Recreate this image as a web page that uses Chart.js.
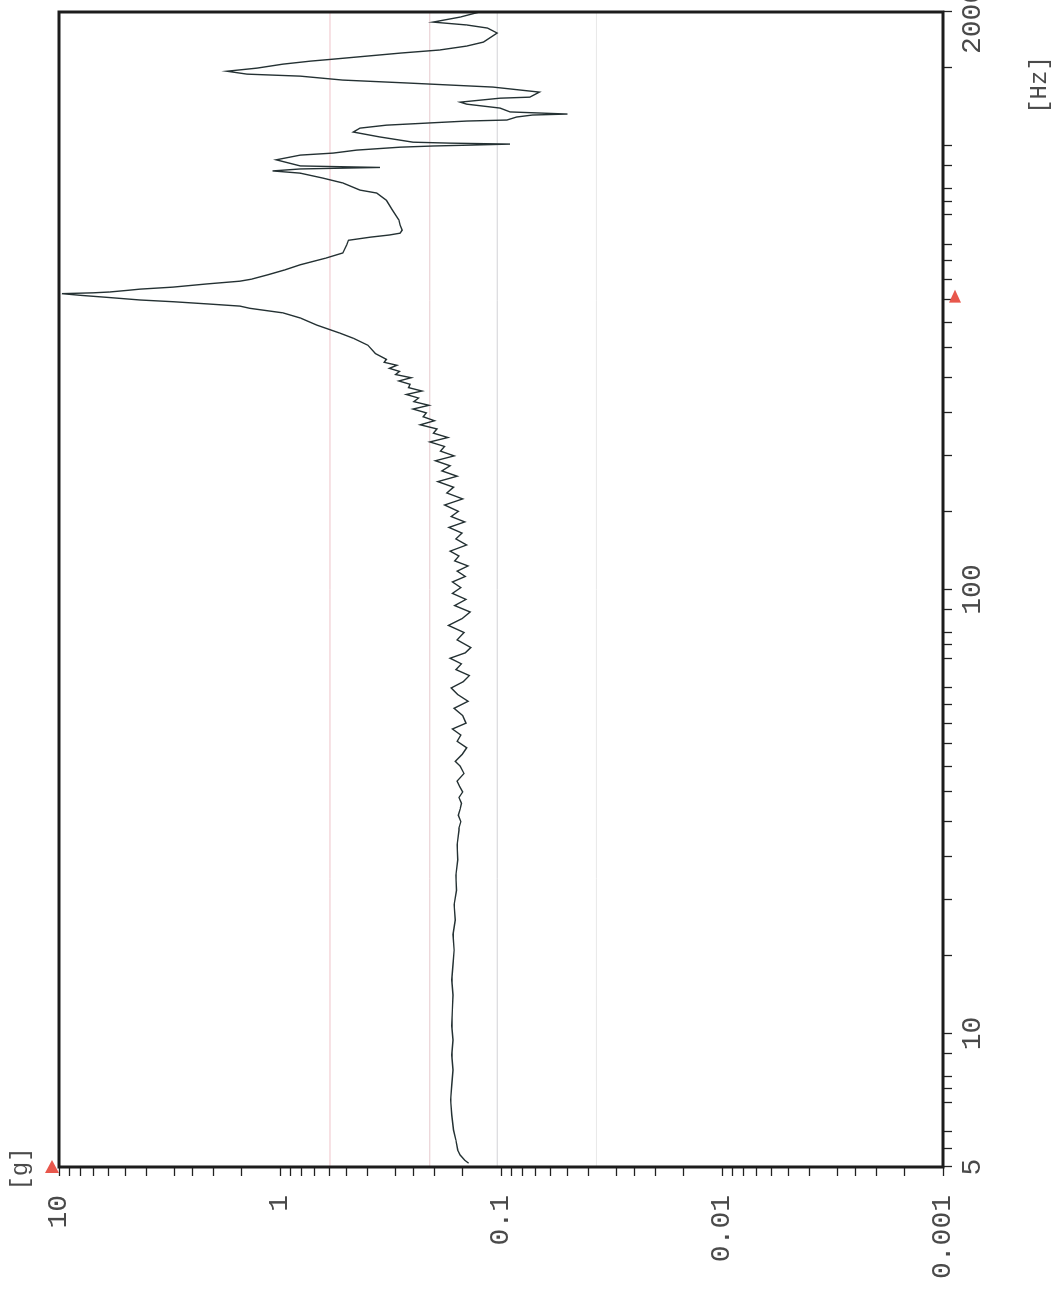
<!DOCTYPE html>
<html>
<head>
<meta charset="utf-8">
<script src="https://cdn.jsdelivr.net/npm/chart.js@4/dist/chart.umd.min.js"></script>
<style>
  html,body{margin:0;padding:0;background:#fff;overflow:hidden;width:1054px;height:1303px;}
  #wrap{position:absolute;left:0;top:0;width:1303px;height:1054px;transform-origin:0 0;transform:translate(0,1303px) rotate(-90deg);}
</style>
</head>
<body>
<div id="wrap"><canvas id="c" width="1303" height="1054"></canvas></div>
<script>
// Frequency [Hz]
const freq = [
  5.1,5.18,5.32,5.46,5.75,6.06,6.55,7.08,7.65,8.27,8.94,9.66,10.4,11.3,12.2,13.2,14.3,15.4,16.7,18.0,19.5,21.0,22.7,24.6,26.6,28.7,
  29,30,31,32,33,34,35,36,37,38.5,40,41,42.5,44,45.5,47,48.5,50,52,54,56,58,60,62,64,66,68,70,72,74,77,80,83,86,89,92,95,98,
  101,104,107,110,113,116,119,122,126,130,134,138,142,146,150,155,160,165,170,175,180,185,190,195,200,205,210,215,220,225,230,235,240,245,250,255,260,265,270,275,280,285,290,295,300,305,310,315,320,325,330,
  340,355,368,378,394,409,420,430,435,440,445,449,455,460,464,466,468,472,475,480,488,495,500,512,525,539,558,573,597,612,622,629,635,645,662,680,716,753,782,794,824,845,867,877,886,893,900,929,952,962,977,992,998,1003,1008,1013,1018,1046,1073,1095,1112,1124,1136,1142,1160,1172,1178,1191,1215,1240,1253,1279,1286,1320,1355,1384,1405,1434,1449,1471,1495,1526,1550,1566,1616,1642,1676,1711,1793,1840,1870,1898,1948,2000
];
// Acceleration [g]
const accel = [
  0.140,0.146,0.153,0.157,0.160,0.164,0.167,0.169,0.167,0.165,0.167,0.165,0.167,0.166,0.165,0.167,0.165,0.163,0.165,0.161,0.163,0.159,0.160,0.157,0.158,0.155,
  0.155,0.152,0.156,0.153,0.151,0.155,0.149,0.154,0.158,0.147,0.153,0.161,0.150,0.143,0.158,0.152,0.166,0.144,0.149,0.163,0.141,0.157,0.168,0.148,0.139,0.160,0.151,0.170,0.145,0.137,0.158,0.147,0.173,0.150,0.138,0.162,0.144,0.166,
  0.152,0.166,0.145,0.158,0.141,0.162,0.155,0.170,0.143,0.160,0.150,0.172,0.146,0.168,0.156,0.180,0.149,0.176,0.164,0.193,0.158,0.185,0.170,0.198,0.163,0.188,0.180,0.210,0.174,0.202,0.195,0.232,0.200,0.225,0.218,0.250,0.212,0.248,0.236,0.268,0.228,0.262,0.258,0.290,0.255,0.300,0.288,0.320,0.296,0.338,0.330,
  0.37,0.40,0.465,0.535,0.68,0.81,0.97,1.37,1.52,2.14,3.05,4.3,6.0,8.0,9.7,7.0,5.9,4.9,4.3,3.05,2.14,1.52,1.35,1.13,0.95,0.81,0.62,0.52,0.50,0.49,0.39,0.32,0.286,0.28,0.286,0.29,0.31,0.33,0.365,0.435,0.52,0.64,0.81,1.08,0.81,0.353,0.81,1.04,0.81,0.575,0.45,0.286,0.204,0.134,0.091,0.17,0.25,0.353,0.466,0.435,0.33,0.217,0.143,0.094,0.085,0.072,0.050,0.091,0.101,0.143,0.153,0.101,0.074,0.067,0.109,0.267,0.52,0.81,1.41,1.74,1.27,0.97,0.73,0.575,0.286,0.19,0.143,0.12,0.104,0.115,0.143,0.203,0.153,0.125
];
// Horizontal reference levels [g]
const levels = [0.594, 0.21, 0.104, 0.037];
const levelColors = ['#efc3c9', '#e6c9cd', '#d2d2d6', '#e8e8e8'];
// Axis ticks
const fMantissa = [1,1.5,2,2.5,3,3.5,4,4.5,5,5.5,6,7,7.5,8,9];
const fDecades = [1,10,100,1000];
const fLabels = {5:'5', 10:'10', 100:'100', 2000:'2000 '};
const gMantissa = [1,1.5,2,2.5,3,4,5,6,7,8,9];
const gDecades = [0.001,0.01,0.1,1];
const gLabels = [[10,'10'],[1,'1'],[0.1,'0.1'],[0.01,'0.01'],[0.001,'0.001']];
const fRange = [5, 2000];
const gRange = [0.001, 10];
const markerFreq = 464;
const markerG = 10;

const fTicks = [];
fDecades.forEach(d => fMantissa.forEach(m => { const v = m*d; if (v >= fRange[0]-1e-9 && v <= fRange[1]+1e-9) fTicks.push(v); }));
const gTicks = [];
gDecades.forEach(d => gMantissa.forEach(m => gTicks.push(m*d)));
gTicks.push(10);

const FONT = 'Liberation Mono';
const txtColor = '#4a4a4a';

const datasets = [];
levels.forEach((lv, i) => {
  datasets.push({data: [{x: fRange[0], y: lv}, {x: fRange[1], y: lv}], borderColor: levelColors[i], borderWidth: 1, pointRadius: 0, order: 5});
});
datasets.push({data: freq.map((f, i) => ({x: f, y: accel[i]})), borderColor: '#243133', borderWidth: 1.4, pointRadius: 0, tension: 0, order: 1});

const decor = {
  id: 'decor',
  afterDraw(chart) {
    const ctx = chart.ctx, a = chart.chartArea;
    const xs = chart.scales.x, ys = chart.scales.y;
    ctx.save();
    ctx.strokeStyle = '#1c1c1c';
    ctx.lineWidth = 3;
    ctx.strokeRect(a.left, a.top, a.right - a.left, a.bottom - a.top);
    ctx.fillStyle = '#e8574c';
    const px = xs.getPixelForValue(markerFreq);
    const by = a.bottom + 12;
    ctx.beginPath();
    ctx.moveTo(px + 4, by);
    ctx.lineTo(px - 9, by - 6);
    ctx.lineTo(px - 9, by + 6);
    ctx.closePath();
    ctx.fill();
    const gy = ys.getPixelForValue(markerG) - 7;
    ctx.beginPath();
    ctx.moveTo(a.left + 7, gy);
    ctx.lineTo(a.left - 6, gy - 7);
    ctx.lineTo(a.left - 6, gy + 7);
    ctx.closePath();
    ctx.fill();
    ctx.fillStyle = txtColor;
    ctx.font = '24px "' + FONT + '"';
    ctx.textAlign = 'center';
    ctx.textBaseline = 'middle';
    ctx.fillText('[g]', a.left - 2, 21);
    ctx.fillText('[Hz]', 1218, a.bottom + 97);
    ctx.restore();
  }
};

new Chart(document.getElementById('c'), {
  type: 'line',
  data: {datasets},
  options: {
    responsive: false,
    animation: false,
    devicePixelRatio: 1,
    layout: {padding: {top: 59, right: 12, left: 0, bottom: 0}},
    plugins: {legend: {display: false}, tooltip: {enabled: false}},
    scales: {
      x: {
        type: 'logarithmic', position: 'bottom', min: fRange[0], max: fRange[1],
        border: {display: false},
        grid: {drawOnChartArea: false, drawTicks: true, tickLength: 9, tickColor: '#222', tickWidth: 1.3},
        afterBuildTicks: s => { s.ticks = fTicks.map(v => ({value: v})); },
        afterFit: s => { s.height = 111; s.paddingLeft = 0; s.paddingRight = 0; s.paddingTop = 0; s.paddingBottom = 0; },
        ticks: {
          autoSkip: false, maxRotation: 0, minRotation: 0, padding: 4, color: txtColor,
          font: {family: FONT, size: 28},
          callback: v => { for (const k in fLabels) { if (Math.abs(v - Number(k)) < 1e-6) return fLabels[k]; } return ''; }
        }
      },
      y: {
        type: 'logarithmic', position: 'left', min: gRange[0], max: gRange[1],
        border: {display: false},
        grid: {drawOnChartArea: false, drawTicks: true, tickLength: 9, tickColor: '#222', tickWidth: 1.3},
        afterBuildTicks: s => { s.ticks = gTicks.map(v => ({value: v})); },
        afterFit: s => { s.width = 136; s.paddingLeft = 0; s.paddingRight = 0; s.paddingTop = 0; s.paddingBottom = 0; },
        ticks: {
          autoSkip: false, padding: 19, color: txtColor,
          font: {family: FONT, size: 28},
          callback: v => { for (const p of gLabels) { if (Math.abs(v - p[0]) < p[0]*1e-6) return p[1]; } return ''; }
        }
      }
    }
  },
  plugins: [decor]
});
</script>
</body>
</html>
